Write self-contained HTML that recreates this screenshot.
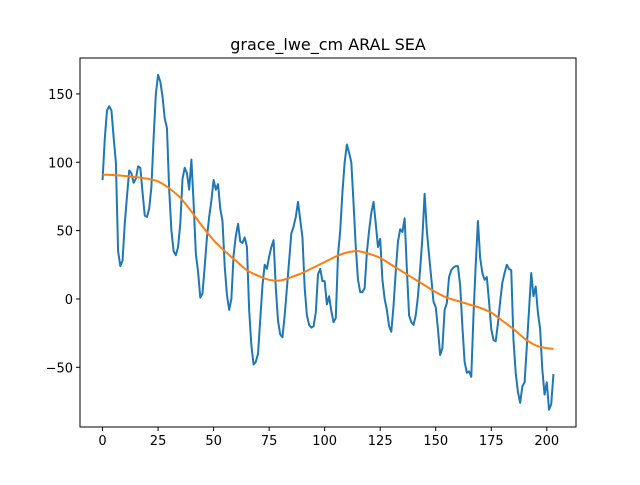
<!DOCTYPE html>
<html><head><meta charset="utf-8"><style>
body{margin:0;background:#fff;}
svg text{font-family:"DejaVu Sans","Liberation Sans",sans-serif;fill:#000;}
</style></head><body>
<svg id="chart" width="640" height="480" xmlns="http://www.w3.org/2000/svg">
<rect width="640" height="480" fill="#fff"/>
<text x="328" y="50" text-anchor="middle" font-size="16">grace_lwe_cm ARAL SEA</text>
<g id="plot"></g>
<rect x="80" y="58" width="496" height="369" fill="none" stroke="#000" stroke-width="1"/>
<g id="ticks"></g>
</svg>
<script>
const seriesValues=[87,117,138,141,138,118,100,35,24,28,55,75,94,92,85,88,97,96,78,61,60,66,82,118,150,164,159,148,132,125,80,50,35,32,38,55,88,96,92,80,102,70,33,20,1,4,24,45,60,72,87,80,84,66,57,24,3,-8,0,32,46,55,42,41,45,38,-8,-34,-48,-46,-40,-15,10,25,22,31,38,43,8,-16,-26,-28,-12,8,28,48,53,60,71,58,45,8,-12,-19,-21,-20,-10,18,22,13,13,-4,2,-9,-17,-14,32,50,78,100,113,107,100,70,38,14,5,5,8,34,50,63,71,55,38,44,14,0,-8,-20,-24,-5,20,42,51,49,59,22,-12,-17,-19,-12,2,22,45,77,50,32,15,-2,-6,-22,-41,-36,-8,-3,16,21,23,24,24,10,-20,-46,-54,-53,-57,-12,25,57,30,19,14,16,-2,-22,-30,-31,-18,-2,12,19,25,22,21,-30,-54,-68,-76,-64,-61,-35,-8,19,2,9,-10,-22,-52,-70,-61,-81,-77,-55];
const trendX=[0,10,20,25,30,35,40,45,50,55,60,65,70,75,80,85,90,95,100,105,110,115,120,125,130,135,140,145,150,155,160,165,170,175,180,185,190,195,200,203];
const trendValues=[91,90,88,86,81,74,64,53,43,35,28,21,17,14,13.5,16,19,23,27,31,34,35,33,30,25,20,15,10,5,1,-1.5,-4,-6.5,-10,-16,-22,-29,-34,-36,-36.5];
const xTicks=[0,25,50,75,100,125,150,175,200];
const yTicks=[-50,0,50,100,150];
const X0=80,X1=576,Y0=58,Y1=427,xmin=-10.15,xmax=213.15,ymin=-93.7,ymax=176.3;
function sx(v){return X0+(v-xmin)/(xmax-xmin)*(X1-X0);}
function sy(v){return Y1-(v-ymin)/(ymax-ymin)*(Y1-Y0);}
const NS='http://www.w3.org/2000/svg';
const plot=document.getElementById('plot');
const ticks=document.getElementById('ticks');
let p=new Array();
seriesValues.forEach((v,i)=>p.push(sx(i).toFixed(2)+','+sy(v).toFixed(2)));
const l1=document.createElementNS(NS,'polyline');
l1.setAttribute('points',p.join(' '));
l1.setAttribute('fill','none');l1.setAttribute('stroke','#1f77b4');l1.setAttribute('stroke-width','2');l1.setAttribute('stroke-linejoin','round');


plot.appendChild(l1);
// smooth trend via Catmull-Rom
const tp=trendX.map((x,i)=>[sx(x),sy(trendValues[i])]);
let d='M'+tp[0][0]+','+tp[0][1];
for(let i=0;i<tp.length-1;i++){const a=tp[Math.max(0,i-1)],b=tp[i],c=tp[i+1],e=tp[Math.min(tp.length-1,i+2)];
d+=' C'+(b[0]+(c[0]-a[0])/6)+','+(b[1]+(c[1]-a[1])/6)+' '+(c[0]-(e[0]-b[0])/6)+','+(c[1]-(e[1]-b[1])/6)+' '+c[0]+','+c[1];}
const l2=document.createElementNS(NS,'path');
l2.setAttribute('d',d);l2.setAttribute('fill','none');l2.setAttribute('stroke','#ff7f0e');l2.setAttribute('stroke-width','2');


plot.appendChild(l2);
xTicks.forEach(t=>{const x=sx(t);
const ln=document.createElementNS(NS,'line');ln.setAttribute('x1',x);ln.setAttribute('x2',x);ln.setAttribute('y1',Y1);ln.setAttribute('y2',Y1+4);ln.setAttribute('stroke','#000');


ticks.appendChild(ln);
const tx=document.createElementNS(NS,'text');tx.setAttribute('x',x);tx.setAttribute('y',Y1+18);tx.setAttribute('text-anchor','middle');tx.setAttribute('font-size','13');tx.textContent=t;


ticks.appendChild(tx);});
yTicks.forEach(t=>{const y=sy(t);
const ln=document.createElementNS(NS,'line');ln.setAttribute('x1',X0-4);ln.setAttribute('x2',X0);ln.setAttribute('y1',y);ln.setAttribute('y2',y);ln.setAttribute('stroke','#000');


ticks.appendChild(ln);
const tx=document.createElementNS(NS,'text');tx.setAttribute('x',X0-7);tx.setAttribute('y',y+5);tx.setAttribute('text-anchor','end');tx.setAttribute('font-size','13');tx.textContent=t<0?'\u2212'+Math.abs(t):t;


ticks.appendChild(tx);});
</script>
</body></html>
